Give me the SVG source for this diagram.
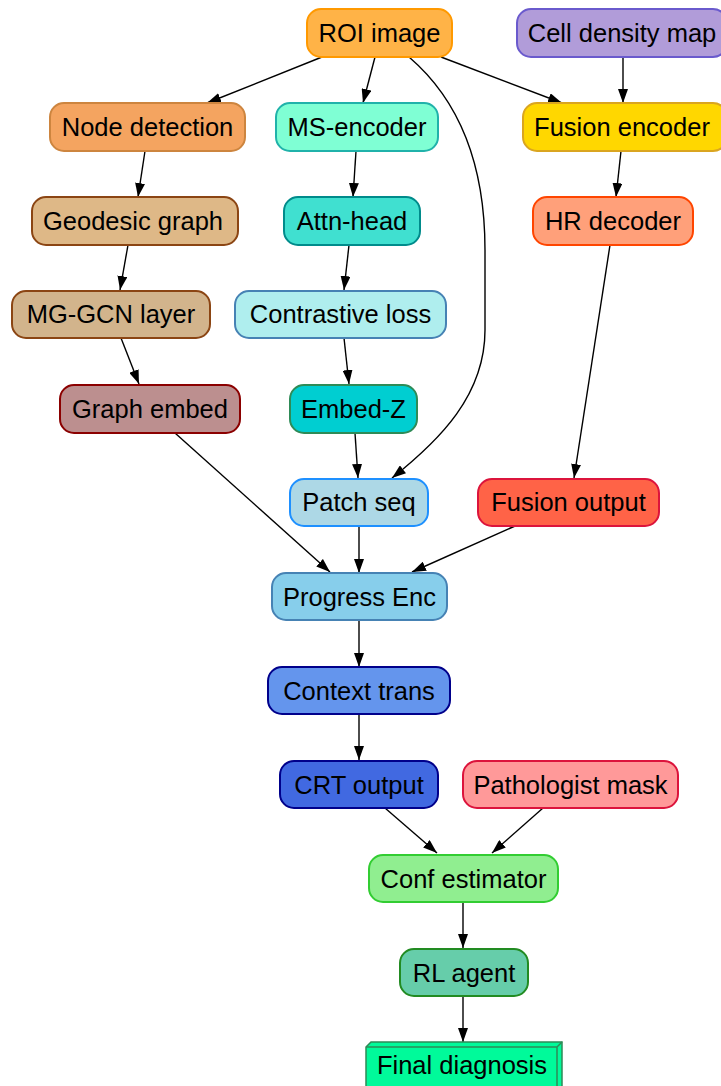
<svg xmlns="http://www.w3.org/2000/svg" width="721" height="1086" viewBox="0 0 721 1086">
<defs>
<marker id="ah" viewBox="0 0 14 10" refX="14" refY="5" markerWidth="14" markerHeight="10" markerUnits="userSpaceOnUse" orient="auto"><path d="M0,0 L14,5 L0,10 z" fill="#000"/></marker>
<style>
.n rect{stroke-width:2}
.n text{font-family:"Liberation Sans",Arial,sans-serif;font-size:25.5px;fill:#000;text-anchor:middle}
.e path{fill:none;stroke:#000;stroke-width:1.4;marker-end:url(#ah)}
</style>
</defs>
<rect width="721" height="1086" fill="#fff"/>
<g class="e" id="edges">
<path d="M322,57 L207,103"/>
<path d="M375,57 L363,103"/>
<path d="M409,57 C465,105 485,175 485,250 L485,330 C485,395 440,440 392,478"/>
<path d="M441,57 L562,103"/>
<path d="M623,57 L623,103"/>
<path d="M145,151 L138,197"/>
<path d="M356,151 L353,197"/>
<path d="M621,151 L616,197"/>
<path d="M128,245 L120,290"/>
<path d="M349,245 L344,290"/>
<path d="M610,245 L574,478"/>
<path d="M121,338 L139,384"/>
<path d="M344,338 L349,384"/>
<path d="M175,433 L330,572"/>
<path d="M355,433 L358,478"/>
<path d="M359,526 L359,573"/>
<path d="M515,526 L412,572"/>
<path d="M359,620 L359,667"/>
<path d="M359,714 L359,760"/>
<path d="M385,808 L437,853"/>
<path d="M543,808 L492,853"/>
<path d="M463,902 L463,948"/>
<path d="M463,996 L463,1042"/>
</g>
<g class="n" id="roi"><rect x="307" y="9" width="145" height="48" rx="14" fill="#FFB347" stroke="#FF9900"/><text x="379.5" y="42">ROI image</text></g>
<g class="n" id="celldensity"><rect x="517" y="9" width="210" height="48" rx="14" fill="#B19CD9" stroke="#6A5ACD"/><text x="622" y="42">Cell density map</text></g>
<g class="n" id="nodedet"><rect x="50" y="103" width="195" height="48" rx="14" fill="#F4A460" stroke="#CD853F"/><text x="147.5" y="136">Node detection</text></g>
<g class="n" id="msenc"><rect x="276" y="103" width="162" height="48" rx="14" fill="#7FFFD4" stroke="#20B2AA"/><text x="357" y="136">MS-encoder</text></g>
<g class="n" id="fusenc"><rect x="523" y="103" width="204" height="48" rx="14" fill="#FFD700" stroke="#DAA520"/><text x="622" y="136">Fusion encoder</text></g>
<g class="n" id="geodesic"><rect x="32" y="197" width="206" height="48" rx="14" fill="#DEB887" stroke="#8B4513"/><text x="133" y="230">Geodesic graph</text></g>
<g class="n" id="attn"><rect x="284" y="197" width="136" height="48" rx="14" fill="#40E0D0" stroke="#008B8B"/><text x="352" y="230">Attn-head</text></g>
<g class="n" id="hrdec"><rect x="533" y="197" width="160" height="48" rx="14" fill="#FFA07A" stroke="#FF4500"/><text x="613" y="230">HR decoder</text></g>
<g class="n" id="mggcn"><rect x="12" y="291" width="198" height="47" rx="14" fill="#D2B48C" stroke="#8B4513"/><text x="111" y="323">MG-GCN layer</text></g>
<g class="n" id="contrast"><rect x="235" y="291" width="211" height="47" rx="14" fill="#AFEEEE" stroke="#4682B4"/><text x="340.5" y="323">Contrastive loss</text></g>
<g class="n" id="graphemb"><rect x="60" y="385" width="180" height="48" rx="14" fill="#BC8F8F" stroke="#8B0000"/><text x="150" y="418">Graph embed</text></g>
<g class="n" id="embedz"><rect x="290" y="385" width="127" height="48" rx="14" fill="#00CED1" stroke="#2E8B57"/><text x="353.5" y="418">Embed-Z</text></g>
<g class="n" id="patchseq"><rect x="290" y="479" width="138" height="47" rx="14" fill="#ADD8E6" stroke="#1E90FF"/><text x="359" y="511">Patch seq</text></g>
<g class="n" id="fusout"><rect x="478" y="479" width="181" height="47" rx="14" fill="#FF6347" stroke="#DC143C"/><text x="568.5" y="511">Fusion output</text></g>
<g class="n" id="progenc"><rect x="272" y="573" width="175" height="47" rx="14" fill="#87CEEB" stroke="#4682B4"/><text x="359.5" y="606">Progress Enc</text></g>
<g class="n" id="ctxtrans"><rect x="268" y="667" width="182" height="47" rx="14" fill="#6495ED" stroke="#00008B"/><text x="359" y="700">Context trans</text></g>
<g class="n" id="crt"><rect x="280" y="761" width="158" height="47" rx="14" fill="#4169E1" stroke="#00008B"/><text x="359" y="794">CRT output</text></g>
<g class="n" id="pathmask"><rect x="463" y="761" width="215" height="47" rx="14" fill="#FF9999" stroke="#DC143C"/><text x="570.5" y="794">Pathologist mask</text></g>
<g class="n" id="conf"><rect x="369" y="855" width="189" height="47" rx="14" fill="#90EE90" stroke="#32CD32"/><text x="463.5" y="888">Conf estimator</text></g>
<g class="n" id="rl"><rect x="400" y="949" width="128" height="47" rx="14" fill="#66CDAA" stroke="#228B22"/><text x="464" y="982">RL agent</text></g>
<g class="n" id="final">
<path d="M366,1047 L371,1042 L562,1042 L562,1086 L557,1091 L366,1091 Z" fill="#00FA9A" stroke="#2E8B57" stroke-width="1.5"/>
<path d="M557,1091 L557,1047 L366,1047 M557,1047 L562,1042" fill="none" stroke="#2E8B57" stroke-width="1.5"/>
<text x="462" y="1074" style="font-family:'Liberation Sans',Arial,sans-serif;font-size:25.5px;text-anchor:middle">Final diagnosis</text>
</g>
</svg>
